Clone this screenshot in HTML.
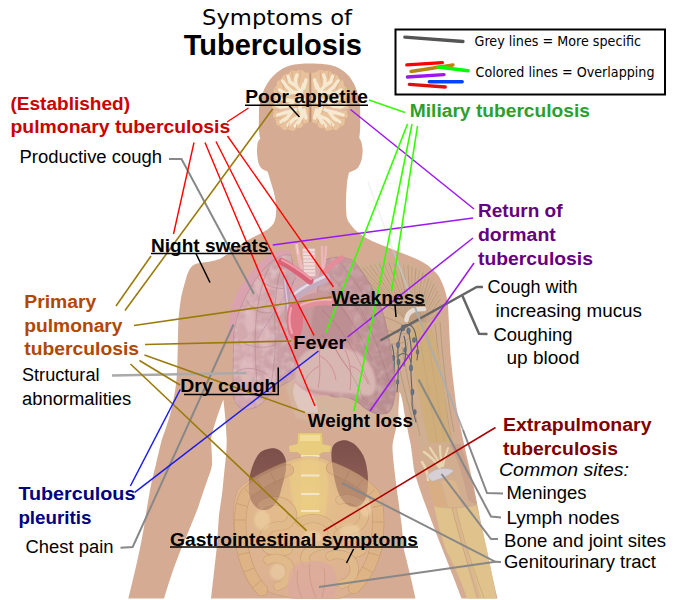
<!DOCTYPE html>
<html><head><meta charset="utf-8"><title>Symptoms of Tuberculosis</title>
<style>
html,body{margin:0;padding:0;background:#fff;}
svg{display:block}
text{font-family:"Liberation Sans",sans-serif;font-size:18px;fill:#000}
.b{font-weight:bold}
.dj{font-family:"DejaVu Sans",sans-serif}
</style></head><body>
<svg width="676" height="600" viewBox="0 0 676 600">
<rect width="676" height="600" fill="#fff"/>
<defs>
<filter id="bl1" x="-10%" y="-10%" width="120%" height="120%"><feGaussianBlur stdDeviation="1"/></filter>
<filter id="bl2" x="-10%" y="-10%" width="120%" height="120%"><feGaussianBlur stdDeviation="2"/></filter>
<filter id="bl05" x="-10%" y="-10%" width="120%" height="120%"><feGaussianBlur stdDeviation="0.5"/></filter>
</defs>
<g id="body">
<path id="sil" fill="#d5ac93" d="M311,63.5 C302,63.5 296,64 290,65.5 C285,67 281,69 277,72.5 C273,76 270,79 268,82.5 C265,87 263,91 261.5,97 C260,102 259,106 259,110 L258.8,126 C259,131 259.3,134 259.7,136.5 L260.3,139 C258.5,140 257.8,141.5 257.5,143.5 C257,147 256.8,151 257.2,155 C257.6,159 258,162.5 259.5,165.5 C260.5,167.5 262,169 264,170 L267.5,171.5 C268.5,174 269,176.5 270,179.5 C272,186 274,192 275,197.5 C276,202 276.3,206 276.2,210 C276.1,214 275.8,217 275,220 C274,223 273,224.5 271,226.5 C268.5,229 266,230.5 262.5,232.5 C259,234.5 256,236 252.5,237.5 C241,243.5 231,252 220,259 C213,261.5 205,262 197,263.5 C193.5,264.5 191,266.5 189.5,269.5 C188,272.5 187,275 186.3,277.5 L184.5,284 C183,289 181.5,295 180.7,300 C179.5,308 178.6,316 178.3,323 C178,332 177.8,341 177.7,350 C177.5,359 177.2,368 176.7,377 C176,385 175,393 173.3,400 C172,408 170,416 167.5,423 C165.5,429 163.5,435 161.7,440 C159.5,449 157.5,457 155.8,465 C153.5,474 151.5,482 150,490 C148.5,499 147,507 145.8,515 C144.8,521 144,527 143.3,531 C139,555 133,580 128.3,598.5 L164,598.5 C170,578 177,558 185,540 C189,530 194,518 198.3,507 C201,498 204,490 206.7,482 C209,475 211.5,470 212,465 C212.3,458 211.5,450 211,440 C212,432 216.5,418 223.3,399.5 C224.7,410 226,425 226.7,440 C226.5,450 226,458 225,465 C224,474 223.3,482 222.5,490 C221.5,499 220,507 219,515 C218.3,524 217.8,532 217.5,540 C215.5,560 213,580 211,598.5 L415.5,598.5 C412,582 408,566 404,550 C403,542 402.5,533 401.7,525 C400.5,517 399.3,508 398.3,500 C397,491 396,483 395,475 C394,466 393,458 392.5,450 L392.5,445 C393.5,438 396,430 397.5,420 C398,412 399,402 399.7,391 C401.5,396 402.5,401 403.3,406 C404,411 404.8,416 405.8,420 C407.5,429 409,437 410.8,445 C412,454 413,462 414,470 C418,486 424,501 430,517 C436,533 442,548 446.7,560 C452,574 457,586 461.5,598.5 L497.5,598.5 C492,575 487,551 483,533 C479,514 476,497 473,483 C469,466 465,449 461.7,433 C459,420 456.5,410 455.5,400 C453.5,385 452,370 450.5,355 C449.5,340 449,322 448,305 C447,296 445,290 443,285 C440,277 437,273 433,270 C427,264 420,260 413,257.5 C400,252 387,247 375.5,242.5 C366,238.5 358,233.5 353,227.5 C349,223 347,220 346.5,216 C346,210 345.8,204 346,199 C346.3,193 346.7,186 347.3,180 L349,172.5 L352,171.2 C355,170 357,169 358.5,167 C360,164.5 361,162 361.7,159 C362.5,155 362.7,152 362.5,149 C362.3,146 361.8,143 361,141 L359.3,138 C359.7,134 360,131 360.2,128 L360.2,110 C360,105 359.5,101 358.5,97 C357.5,92 356,88 354.3,84.5 C352,80 350,77 347,74 C343.5,70.5 340,68.5 335.5,66.5 C329,64.3 320,63.5 311,63.5 Z"/>
</g>
<g id="brain">
<path fill="#e8c29c" stroke="#d3a584" stroke-width="0.6" d="M309.6,72.7 L308.9,72.5 L308.0,72.3 L307.1,72.2 L306.2,72.2 L305.4,72.1 L304.6,71.7 L303.9,71.1 L303.2,70.5 L302.4,70.1 L301.7,69.7 L300.9,69.6 L300.0,69.5 L299.2,69.7 L298.3,69.9 L297.4,70.3 L296.6,70.7 L295.8,70.7 L294.9,70.5 L294.0,70.2 L293.2,70.1 L292.3,70.1 L291.3,70.4 L290.5,70.8 L289.9,71.4 L289.3,72.1 L288.7,72.8 L288.1,73.3 L287.2,73.5 L286.2,73.5 L285.3,73.7 L284.5,74.0 L283.8,74.4 L283.2,74.9 L282.6,75.6 L282.1,76.3 L281.8,77.1 L281.4,78.0 L280.9,78.7 L280.1,79.1 L279.3,79.4 L278.5,79.8 L277.8,80.3 L277.1,80.9 L276.7,81.8 L276.4,82.7 L276.3,83.6 L276.3,84.5 L276.2,85.3 L275.9,86.1 L275.2,86.7 L274.5,87.3 L274.0,88.0 L273.5,88.8 L273.2,89.5 L273.1,90.3 L273.1,91.2 L273.2,92.1 L273.3,93.0 L273.4,93.9 L273.2,94.7 L272.8,95.4 L272.3,96.2 L271.9,97.0 L271.7,97.8 L271.6,98.6 L271.6,99.5 L271.8,100.4 L272.2,101.2 L272.6,102.0 L272.9,102.8 L272.7,103.7 L272.3,104.5 L272.0,105.3 L271.7,106.1 L271.6,107.0 L271.6,107.8 L271.9,108.6 L272.2,109.5 L272.7,110.2 L273.1,111.0 L273.3,111.8 L273.1,112.7 L272.8,113.5 L272.5,114.4 L272.4,115.4 L272.5,116.3 L272.8,117.0 L273.3,117.8 L273.8,118.5 L274.5,119.1 L275.0,119.8 L275.3,120.6 L275.4,121.5 L275.5,122.4 L275.7,123.3 L275.9,124.1 L276.3,124.8 L276.9,125.4 L277.6,126.0 L278.5,126.4 L279.5,126.7 L280.3,126.9 L280.9,127.5 L281.4,128.3 L281.9,129.1 L282.7,129.7 L283.5,130.2 L284.3,130.4 L285.1,130.5 L285.9,130.5 L286.8,130.3 L287.7,130.1 L288.6,130.0 L289.4,130.1 L290.2,130.5 L291.1,130.9 L291.9,131.1 L292.7,131.2 L293.7,131.1 L294.6,130.8 L295.4,130.2 L296.0,129.6 L296.6,128.9 L297.3,128.4 L298.2,128.3 L299.1,128.4 L300.1,128.3 L301.0,128.1 L301.7,127.7 L302.4,127.2 L302.9,126.6 L303.4,125.9 L303.9,125.1 L304.4,124.3 L305.0,123.8 L305.8,123.4 L306.7,123.2 L307.5,122.9 L308.3,122.5 L308.9,122.1 Z"/>
<path fill="#e8c29c" stroke="#d3a584" stroke-width="0.6" d="M311.0,72.7 L311.7,72.5 L312.6,72.3 L313.5,72.2 L314.4,72.2 L315.2,72.1 L316.0,71.7 L316.7,71.1 L317.4,70.5 L318.2,70.1 L318.9,69.7 L319.7,69.6 L320.6,69.5 L321.4,69.7 L322.3,69.9 L323.2,70.3 L324.0,70.7 L324.8,70.7 L325.7,70.5 L326.6,70.2 L327.4,70.1 L328.3,70.1 L329.3,70.4 L330.1,70.8 L330.7,71.4 L331.3,72.1 L331.9,72.8 L332.5,73.3 L333.4,73.5 L334.4,73.5 L335.3,73.7 L336.1,74.0 L336.8,74.4 L337.4,74.9 L338.0,75.6 L338.5,76.3 L338.8,77.1 L339.2,78.0 L339.7,78.7 L340.5,79.1 L341.3,79.4 L342.1,79.8 L342.8,80.3 L343.5,80.9 L343.9,81.8 L344.2,82.7 L344.3,83.6 L344.3,84.5 L344.4,85.3 L344.7,86.1 L345.4,86.7 L346.1,87.3 L346.6,88.0 L347.1,88.8 L347.4,89.5 L347.5,90.3 L347.5,91.2 L347.4,92.1 L347.3,93.0 L347.2,93.9 L347.4,94.7 L347.8,95.4 L348.3,96.2 L348.7,97.0 L348.9,97.8 L349.0,98.6 L349.0,99.5 L348.8,100.4 L348.4,101.2 L348.0,102.0 L347.7,102.8 L347.9,103.7 L348.3,104.5 L348.6,105.3 L348.9,106.1 L349.0,107.0 L349.0,107.8 L348.7,108.6 L348.4,109.5 L347.9,110.2 L347.5,111.0 L347.3,111.8 L347.5,112.7 L347.8,113.5 L348.1,114.4 L348.2,115.4 L348.1,116.3 L347.8,117.0 L347.3,117.8 L346.8,118.5 L346.1,119.1 L345.6,119.8 L345.3,120.6 L345.2,121.5 L345.1,122.4 L344.9,123.3 L344.7,124.1 L344.3,124.8 L343.7,125.4 L343.0,126.0 L342.1,126.4 L341.1,126.7 L340.3,126.9 L339.7,127.5 L339.2,128.3 L338.7,129.1 L337.9,129.7 L337.1,130.2 L336.3,130.4 L335.5,130.5 L334.7,130.5 L333.8,130.3 L332.9,130.1 L332.0,130.0 L331.2,130.1 L330.4,130.5 L329.5,130.9 L328.7,131.1 L327.9,131.2 L326.9,131.1 L326.0,130.8 L325.2,130.2 L324.6,129.6 L324.0,128.9 L323.3,128.4 L322.4,128.3 L321.5,128.4 L320.5,128.3 L319.6,128.1 L318.9,127.7 L318.2,127.2 L317.7,126.6 L317.2,125.9 L316.7,125.1 L316.2,124.3 L315.6,123.8 L314.8,123.4 L313.9,123.2 L313.1,122.9 L312.3,122.5 L311.7,122.1 Z"/>
<g fill="none" stroke="#f7e9cf" stroke-linecap="round" stroke-linejoin="round"><path stroke-width="3.4" d="M304.0,84.0 L301.0,92.0 L303.5,100.0 L300.0,108.0 L302.5,116.0 L298.0,123.0 M301.0,92.0 L296.0,86.0 L295.5,79.0 L297.0,75.0 M296.0,86.0 L290.0,82.0 L288.0,76.5 M301.0,93.0 L293.0,92.0 L287.0,87.0 L282.5,81.0 M293.0,92.0 L286.0,94.0 L279.5,90.0 M302.0,100.0 L294.0,101.0 L286.0,100.0 L278.0,98.0 M294.0,101.0 L288.0,106.0 L280.0,107.0 L276.0,105.0 M300.0,108.0 L292.0,111.0 L284.0,113.0 L277.5,115.0 M292.0,111.0 L287.0,118.0 L281.0,122.0 M301.0,116.0 L294.0,119.0 L288.0,125.0 M298.0,122.0 L295.0,126.0 M304.0,110.0 L306.0,118.0 M304.0,88.0 L306.0,80.0"/><path stroke-width="3.4" d="M316.6,84.0 L319.6,92.0 L317.1,100.0 L320.6,108.0 L318.1,116.0 L322.6,123.0 M319.6,92.0 L324.6,86.0 L325.1,79.0 L323.6,75.0 M324.6,86.0 L330.6,82.0 L332.6,76.5 M319.6,93.0 L327.6,92.0 L333.6,87.0 L338.1,81.0 M327.6,92.0 L334.6,94.0 L341.1,90.0 M318.6,100.0 L326.6,101.0 L334.6,100.0 L342.6,98.0 M326.6,101.0 L332.6,106.0 L340.6,107.0 L344.6,105.0 M320.6,108.0 L328.6,111.0 L336.6,113.0 L343.1,115.0 M328.6,111.0 L333.6,118.0 L339.6,122.0 M319.6,116.0 L326.6,119.0 L332.6,125.0 M322.6,122.0 L325.6,126.0 M316.6,110.0 L314.6,118.0 M316.6,88.0 L314.6,80.0"/></g>
<g fill="none" stroke="#d9aa86" stroke-width="0.8" stroke-linecap="round" stroke-linejoin="round"><path d="M300.5,71.0 L300.0,78.0 L299.0,83.0 M292.0,71.5 L292.5,78.0 M285.0,75.0 L287.0,80.0 M279.5,80.0 L283.0,85.0 L284.0,89.0 M275.0,88.5 L280.0,93.5 M273.0,98.0 L279.0,101.5 L283.0,102.0 M273.0,109.5 L279.0,110.5 M274.5,118.5 L281.0,117.5 M279.0,126.0 L283.5,122.0 M287.5,129.8 L289.5,123.0 M296.0,129.0 L297.0,124.0 M303.5,125.0 L302.0,120.0 M291.0,96.0 L296.0,96.5 M286.0,104.0 L291.0,105.5 M306.0,95.0 L307.5,104.0 M297.0,106.0 L298.0,112.0"/><path d="M320.1,71.0 L320.6,78.0 L321.6,83.0 M328.6,71.5 L328.1,78.0 M335.6,75.0 L333.6,80.0 M341.1,80.0 L337.6,85.0 L336.6,89.0 M345.6,88.5 L340.6,93.5 M347.6,98.0 L341.6,101.5 L337.6,102.0 M347.6,109.5 L341.6,110.5 M346.1,118.5 L339.6,117.5 M341.6,126.0 L337.1,122.0 M333.1,129.8 L331.1,123.0 M324.6,129.0 L323.6,124.0 M317.1,125.0 L318.6,120.0 M329.6,96.0 L324.6,96.5 M334.6,104.0 L329.6,105.5 M314.6,95.0 L313.1,104.0 M323.6,106.0 L322.6,112.0"/></g>
<path d="M310.3,73.5 L310.3,122" stroke="#b98b72" stroke-width="1.1"/>
</g>
<g id="arm">
<!-- muscle base: deltoid, pectoral, upper arm -->
<path fill="#cfae92" d="M355,268 C362,264 370,262 378,261.500 C390,261 400,261.500 407,262.500 C416,265 424,270 430,277 C435,282 438,287 439.600,290.500 C441.500,296 442.500,303 443,310 C444,330 445,350 446.500,365 C448,385 451,410 455,430 L459,446 C450,450 432,452 421,450 C416,438 410,420 405,405 L400,392 C396,391 394,391 392,390 C390,370 386,340 380,315 C374,295 365,275 355,263 Z"/>
<g fill="none" stroke="#9a7657" stroke-width="0.5" opacity="0.75">
<path d="M358,272 Q380.6,292.3 411.7,325.5"/>
<path d="M360.5,270.0 Q381.9,291.6 412.1,325.5" opacity="0.6"/>
<path d="M363,268 Q383.2,290.5 412.6,325.0"/>
<path d="M366.5,266.5 Q385.1,290.2 413.1,325.0" opacity="0.6"/>
<path d="M370,265 Q387.0,289.5 413.5,324.5"/>
<path d="M374.5,264.2 Q389.4,289.6 413.9,324.5" opacity="0.6"/>
<path d="M379,263.5 Q391.9,289.5 414.4,324.0"/>
<path d="M384.0,263.2 Q394.6,289.9 414.8,324.0" opacity="0.6"/>
<path d="M389,263 Q397.3,290.1 415.3,323.5"/>
<path d="M394.0,263.2 Q400.1,290.8 415.8,323.5" opacity="0.6"/>
<path d="M399,263.5 Q402.8,291.2 416.2,323.0"/>
<path d="M403.5,264.2 Q405.4,292.0 416.6,323.0" opacity="0.6"/>
<path d="M408,265 Q407.9,292.7 417.1,322.5"/>
<path d="M412.0,266.5 Q410.3,293.8 417.6,322.5" opacity="0.6"/>
<path d="M416,268 Q412.7,294.8 418.0,322.0"/>
<path d="M419.5,270.2 Q414.8,296.3 418.4,322.0" opacity="0.6"/>
<path d="M423,272.5 Q416.9,298.0 418.9,322.5"/>
<path d="M426.0,275.2 Q418.9,299.7 419.3,322.5" opacity="0.6"/>
<path d="M429,278 Q420.8,301.6 419.8,323.0"/>
<path d="M431.5,281.0 Q422.5,303.4 420.2,323.0" opacity="0.6"/>
<path d="M434,284 Q424.2,305.3 420.7,323.5"/>
<path d="M436.0,287.5 Q425.7,307.3 421.1,323.5" opacity="0.6"/>
<path d="M438,291 Q427.2,309.5 421.6,324.0"/>
<path d="M439.2,295.0 Q428.3,311.6 422.1,324.0" opacity="0.6"/>
<path d="M440.5,299 Q429.5,313.9 422.5,324.5"/>
<path d="M441.2,304.0 Q430.5,316.4 422.9,324.5" opacity="0.6"/>
<path d="M442,309 Q431.4,319.2 423.4,325.0"/>
<path d="M372,300 Q395,306 412,326"/>
<path d="M375,314 Q397,320 411,330"/>
<path d="M378,328 Q399,334 410,334"/>
<path d="M381,342 Q401,348 409,338"/>
<path d="M384,356 Q403,362 408,342"/>
<path d="M387,370 Q405,376 407,346"/>
<path d="M440,322 C442,352 446,392 454,432"/>
<path d="M435,324 C438,352 443,392 451,438"/>
<path d="M396,352 C400,372 405,392 413,422"/>
<path d="M402,347 C406,372 411,395 420,436"/>
</g>
<!-- biceps yellowish -->
<path fill="#cfae7c" d="M412,328 C418,320 427,320 432,330 C438,345 442,370 445,398 C447,418 450,434 453,446 C447,450 437,450 430,448 C426,430 421,408 417,388 C413,366 409,345 412,328 Z"/>
<g fill="none" stroke="#bf9c66" stroke-width="0.5" opacity="0.7"><path d="M418,326 C422,350 428,390 438,446"/><path d="M425,324 C430,350 436,390 445,446"/></g>
<!-- tendon white near shoulder -->
<path fill="none" stroke="#e6dcd3" stroke-width="4.600" stroke-linecap="round" d="M406.500,320 C407,312 413,308.500 424,309"/>
<!-- elbow region -->
<path fill="#d2ae90" d="M419,448 C428,442 446,440 459,444 C463,458 467,472 472,490 L476,506 C466,509 448,509 435,507 C430,490 424,468 419,448 Z"/>
<path fill="#c9a08c" opacity="0.85" d="M449,444 C456,455 463,474 468,500 L477,505 C472,480 466,458 460,444 Z"/>
<g fill="none" stroke="#ead9b2" stroke-linecap="round" opacity="0.95">
<path stroke-width="2.500" d="M424,452 C430,456 436,462 440,468"/>
<path stroke-width="2.200" d="M430,448 C434,454 438,460 441,466"/>
<path stroke-width="2.200" d="M440,446 C440,452 441,460 442,466"/>
<path stroke-width="2" d="M448,448 C446,454 444,460 443,466"/>
<path stroke-width="2.500" d="M422,462 C426,468 428,474 428,480"/>
</g>
<path fill="#d6d0d6" stroke="#b3aab3" stroke-width="0.500" d="M427,476 C433,468.500 445,466 454,470.500 C449,476.500 441,478.500 432,481.500 Z"/>
<path fill="#d9ae82" d="M427,482 C432,480 437,481 440,484 C443,492 445,500 446,507 L436,507 C432,498 429,490 427,482 Z"/>
<path fill="#dbb58c" d="M441,482 C446,479 452,479 456,482 C459,490 461,499 462,507 L448,507 C446,498 444,490 441,482 Z"/>
<!-- forearm bones -->
<path fill="#dfc28c" d="M434,506.500 C446,509 464,509 476.500,505.500 C483,530 490,562 496.500,598.500 L467,598.500 C461,580 454,565 446,550 C441,536 437,520 434,506.500 Z"/>
<path fill="none" stroke="#c4a16c" stroke-width="0.800" d="M452,508 C459,535 468,565 478,598"/>
<path fill="none" stroke="#c4a16c" stroke-width="0.600" d="M456,508 C462,535 472,565 484,598"/>
<path fill="#d5ac93" opacity="0.5" d="M453,508 C458,530 466,560 476,598 L481,598 C472,565 463,535 456,508 Z"/>
<!-- lymph nodes -->
<g fill="none" stroke="#4f5c6b" stroke-width="1.1" stroke-linecap="round" opacity="0.9">
<path d="M403,326 C400,335 397,345 398,356 C399,368 398,380 397,392"/>
<path d="M408,328 C410,340 413,350 411,362 C410,375 413,390 412,405 C413,412 415,418 416,422"/>
<path d="M403,326 C408,323 413,325 415,332 C417,340 419,350 417,360"/>
<path d="M398,356 C404,351 409,354 411,362"/>
<path d="M392,345 C394,352 395,360 394,372"/>
<path d="M404,336 C407,345 406,355 404,366"/>
</g>
<g fill="#66778b" stroke="#3f4b5c" stroke-width="0.4">
<ellipse cx="403" cy="328" rx="2" ry="3"/><ellipse cx="408.500" cy="331" rx="1.800" ry="2.800"/>
<ellipse cx="398" cy="345" rx="1.600" ry="3"/><ellipse cx="414" cy="340" rx="1.600" ry="2.600"/>
<ellipse cx="398.500" cy="362" rx="1.500" ry="3"/><ellipse cx="411" cy="368" rx="1.600" ry="3.200"/>
<ellipse cx="393" cy="358" rx="1.400" ry="2.800"/><ellipse cx="412.500" cy="392" rx="1.500" ry="3"/>
<ellipse cx="397.500" cy="382" rx="1.300" ry="2.600"/><ellipse cx="415" cy="412" rx="1.300" ry="2.600"/>
<ellipse cx="417.500" cy="352" rx="1.300" ry="2.400"/><ellipse cx="405" cy="350" rx="1.300" ry="2.400"/>
</g>
</g>
<g id="chest">
<defs>
<linearGradient id="gLungL" x1="0" y1="0" x2="1" y2="0.3">
<stop offset="0" stop-color="#d6abaf"/><stop offset="0.5" stop-color="#d2a8ac"/><stop offset="1" stop-color="#c99fa3"/>
</linearGradient>
<linearGradient id="gLungR" x1="0" y1="0" x2="1" y2="0.2">
<stop offset="0" stop-color="#c79a9e"/><stop offset="0.6" stop-color="#c09396"/><stop offset="1" stop-color="#b98e8f"/>
</linearGradient>
<linearGradient id="gMus" x1="0" y1="0" x2="1" y2="1">
<stop offset="0" stop-color="#c9a582"/><stop offset="1" stop-color="#c4a07f"/>
</linearGradient>
<filter id="tex" x="0" y="0" width="100%" height="100%">
<feTurbulence type="fractalNoise" baseFrequency="0.16" numOctaves="3" seed="7" result="n"/>
<feColorMatrix in="n" type="matrix" values="0 0 0 0 0.45  0 0 0 0 0.25  0 0 0 0 0.3  0.9 0.9 0 0 -0.75" result="c"/>
<feComposite in="c" in2="SourceGraphic" operator="in"/>
</filter>
<filter id="texL" x="0" y="0" width="100%" height="100%">
<feTurbulence type="fractalNoise" baseFrequency="0.13" numOctaves="2" seed="11" result="n"/>
<feColorMatrix in="n" type="matrix" values="0 0 0 0 1  0 0 0 0 0.92  0 0 0 0 0.92  1.1 1.1 0 0 -0.95" result="c"/>
<feComposite in="c" in2="SourceGraphic" operator="in"/>
</filter>

</defs>
<!-- abdominal wall fibres below ribs -->
<path fill="#d6b5a0" opacity="0.9" filter="url(#bl1)" d="M286,388 L300,352 L335,350 L395,395 L399,418 L380,430 L330,424 L296,418 Z"/>
<!-- mediastinum base -->
<path fill="#d7a8ab" d="M290,262 C300,268 315,270 330,262 L335,300 L330,396 L296,396 L290,330 Z"/>
<!-- right lung (viewer right) -->
<path id="lungR" fill="url(#gLungR)" stroke="#a07078" stroke-width="0.5" d="M322,262 C330,256 345,255 355,262 C365,275 376,292 382,310 C388,330 393,355 395,380 C396,395 394,408 388,413 C378,416 368,412 360,404 C352,398 345,396 338,397 C330,398 322,392 318,380 L316,300 Z"/>
<!-- left lung pleura band -->
<path fill="#d9a2ae" d="M292,251 C283,248.500 275,251 266,257 C255,265 245,278 237,293 C232,304 229,316 228.500,328 C229,336 231,342 234,346 L250,300 Z"/>
<!-- left lung -->
<path id="lungL" fill="url(#gLungL)" stroke="#a87a85" stroke-width="0.5" d="M291,255 C284,254 277,257 270,263 C260,272 252,284 245,298 C238,312 234,326 233.5,340 L233,392 C233.5,401 237,407 243,409 C250,410 256,408 261,404 C266,400 270,393 276,388 C284,384 292,381 296,376 C298,366 296,352 292,340 C289,330 286,322 285,314 C286,300 292,290 295,275 Z"/>
<use href="#lungL" filter="url(#tex)" opacity="0.3"/><use href="#lungL" filter="url(#texL)" opacity="0.4"/><use href="#lungR" filter="url(#tex)" opacity="0.3"/><use href="#lungR" filter="url(#texL)" opacity="0.3"/>
<!-- lung texture light patches -->
<g fill="#e3bfc2" opacity="0.55" filter="url(#bl1)">
<ellipse cx="262" cy="285" rx="6" ry="9" transform="rotate(25 262 285)"/>
<ellipse cx="250" cy="320" rx="6" ry="12"/>
<ellipse cx="266" cy="340" rx="7" ry="12"/>
<ellipse cx="247" cy="370" rx="7" ry="14"/>
<ellipse cx="270" cy="378" rx="6" ry="9"/>
<ellipse cx="280" cy="300" rx="5" ry="12"/>
</g>
<g fill="none" stroke="#9d6f7b" stroke-width="0.6" opacity="0.6">
<path d="M270,265 C262,280 258,300 256,320 C254,345 256,370 258,400"/>
<path d="M283,262 C276,282 274,305 275,330 C276,350 274,370 270,390"/>
<path d="M246,300 C252,310 262,315 272,312"/>
<path d="M238,340 C248,346 260,350 275,345"/>
<path d="M236,372 C246,366 258,368 268,375"/>
<path d="M258,278 C266,286 276,290 288,288"/>
</g>
<path d="M258,338 C268,322 282,300 296,278" fill="none" stroke="#9a6ad0" stroke-width="0.7" stroke-dasharray="2 1" opacity="0.6"/>
<!-- heart body -->
<path fill="#c9999c" d="M298,300 C308,292 325,290 338,296 C348,303 354,320 355,340 C355,360 352,378 344,390 C332,398 315,396 305,388 C296,378 292,360 292,340 C292,322 293,308 298,300 Z"/>
<path fill="#b98a8e" opacity="0.7" filter="url(#bl1)" d="M318,298 C330,296 346,304 352,322 L353,345 C340,338 325,338 312,342 C310,325 312,310 318,298 Z"/>
<path fill="#d8b6b2" filter="url(#bl1)" d="M295,381 C294,368 298,357 307,351 C318,346 345,346 358,353 C368,359 375,370 376,384 C376,390 374,394 370,396 C358,395 345,393 330,392 C318,391 303,389 295,381 Z"/>
<g fill="none" stroke="#c9676f" stroke-width="0.6" opacity="0.8">
<path d="M320,348 C318,358 322,370 318,388"/><path d="M345,350 C350,360 352,372 350,390"/><path d="M350,366 C358,368 364,374 368,384"/><path d="M320,356 C328,360 334,368 336,380"/><path d="M319,366 C312,370 306,376 304,384"/>
<path d="M335,346 C338,356 344,364 350,370"/>
</g>
<!-- diaphragm whitish -->
<path fill="#e2cbc4" opacity="0.85" filter="url(#bl05)" d="M295,383 C300,388 306,392 312,394 C316,400 318,407 318,413 L300,412 C296,404 293,396 293,390 Z"/>
<!-- trachea -->
<path fill="#f0dad8" stroke="#dcb3b3" stroke-width="0.5" d="M302.500,248.500 L315,248.500 L315.500,276 L304,277 Z"/>
<g stroke="#d9aeb0" stroke-width="0.8"><path d="M303,252 H315 M303,255.500 H315 M303,259 H315 M303.200,262.500 H315.200 M303.500,266 H315.300 M303.700,269.500 H315.400 M304,273 H315.500"/></g>
<!-- neck vessels -->
<g fill="none" stroke-linecap="butt">
<path d="M296.500,244 C297.500,252 299,260 302,269" stroke="#edb6ba" stroke-width="3.600"/>
<path d="M296.500,244 L298,254" stroke="#f6d6d8" stroke-width="1.200"/>
<path d="M322,246 L322.500,271" stroke="#edb6ba" stroke-width="2.400"/>
<path d="M326,246 C326,254 325,262 323,271" stroke="#edb6ba" stroke-width="2.400"/>
<path d="M341.500,258 C335,262 329,267 323.500,273" stroke="#e58c9a" stroke-width="5" stroke-linecap="round"/>
<!-- SVC & pulmonary -->
<path d="M285,275 C286,288 288,305 290,324" stroke="#bf9db4" stroke-width="5.500"/>
<path d="M284.500,276 C285.500,288 287.500,303 289,318" stroke="#dcc7d6" stroke-width="1.500"/>
<path d="M294,296 C303,289 314,283 326,278" stroke="#c3acc0" stroke-width="9" stroke-linecap="round"/>
<path d="M294,294 C303,287 314,281 325,276.500" stroke="#e6d9e3" stroke-width="2.500" stroke-linecap="round"/>
<!-- aorta arch / subclavian -->
<path d="M281.500,261.500 C290,266 300,273 310,281" stroke="#da6378" stroke-width="7" stroke-linecap="round"/>
<path d="M282,260 C291,264.500 301,271 311,279" stroke="#ee9ca8" stroke-width="2.200" stroke-linecap="round"/>
<path d="M296,309 C305,303.500 318,300.500 333,302" stroke="#e2909c" stroke-width="7.500" stroke-linecap="round" fill="none"/>
<path d="M297,307 C306,302 318,299 331,300" stroke="#efb2ba" stroke-width="2" stroke-linecap="round" fill="none"/>
<!-- left atrial appendage / red heart part -->
<path d="M290,304 C295,301 300,304 302,311 C304,320 303,331 299,338 C295,342 290,339 288,332 C286,323 286,311 290,304 Z" fill="#df7585" stroke="none"/>
<path d="M291,308 C289,316 289,326 292,333" stroke="#f0a6b0" stroke-width="2.200" stroke-linecap="round"/>
</g>
<!-- right-lung striations -->
<g fill="none" stroke="#8e636b" stroke-width="0.5" opacity="0.55">
<path d="M330,275 C345,290 360,310 375,340"/>
<path d="M326,290 C342,305 358,330 372,360"/>
<path d="M322,310 C340,325 355,350 370,385"/>
<path d="M322,335 C338,350 352,372 364,400"/>
<path d="M340,262 C355,280 368,300 380,325"/>
<path d="M355,300 C368,320 380,350 390,385"/>
</g>
</g>
<g id="abdomen">
<defs>
<radialGradient id="gInt" cx="0.5" cy="0.3" r="0.65">
<stop offset="0" stop-color="#ecc88a"/><stop offset="0.45" stop-color="#e6bd8a"/><stop offset="1" stop-color="#deb392"/>
</radialGradient>
<linearGradient id="gKid" x1="0" y1="0" x2="0" y2="1">
<stop offset="0" stop-color="#7c4f4a"/><stop offset="1" stop-color="#94635a"/>
</linearGradient>
</defs>
<!-- kidneys -->
<path id="kidL" fill="url(#gKid)" d="M268,449 C277,446 285,452 286,462 C287,472 283,482 281,490 C279,500 274,508 266,510 C257,511 250,503 249,492 C248,478 252,464 258,455 C261,451 264,450 268,449 Z"/>
<path id="kidR" fill="url(#gKid)" d="M340,441 C349,438 360,446 365,460 C369,474 369,490 365,500 C361,508 352,509 345,503 C338,496 336,486 334,476 C332,464 330,452 333,446 C335,443 337,442 340,441 Z"/>
<!-- spine -->
<path fill="#e9cd7e" stroke="#d1b366" stroke-width="0.5" d="M298,433 L322,433 L323,452 L319,455 L320,520 L300,520 L301,455 L297,452 Z"/>
<path fill="#e9cd7e" d="M289,446 L298,444 L298,452 L290,452 Z M322,444 L331,446 L330,452 L322,452 Z"/>
<path fill="#f1dc9a" d="M300,435 H320 V441 H300 Z"/>
<g stroke="#f6f0e2" stroke-width="2.500"><path d="M301,456.500 H319.500 M301,475.500 H319.500 M301,494 H319.500 M301,511 H319.500"/></g>
<!-- intestines -->
<path fill="url(#gInt)" opacity="0.78" stroke="#c4996a" stroke-width="0.6" d="M286,462 C295,456 315,455 326,459 C340,468 360,480 376,489 C382,500 384,510 383.500,519 C384,530 383,540 382,549 C378,562 372,574 364,582 C356,590 348,596 340,598.500 L295,598.500 C280,596 268,592 259,588 C250,578 243,566 238,552 C234,538 233,524 233.500,510 C234,500 236,494 238,489 C250,478 270,468 286,462 Z"/>
<!-- yellow mesentery centre -->
<path fill="#ecd083" opacity="0.6" filter="url(#bl1)" d="M290,464 C300,458 318,458 326,464 C330,480 328,500 324,518 L298,518 C292,500 288,480 290,464 Z"/>
<g stroke="#f6f0e2" stroke-width="2" opacity="0.7"><path d="M301,475.500 H319.500 M301,494 H319.500 M301,511 H319.500"/></g>
<!-- texture on intestines -->
<path d="M262,590 C250,578 244,560 241,540 C239,520 240,505 246,494 C256,484 272,476 288,470 M332,468 C348,474 364,484 374,494 C379,505 379,522 377,542 C374,560 366,576 354,588" fill="none" stroke="#c39668" stroke-width="12.2" stroke-linecap="round" stroke-linejoin="round" opacity="0.85"/><path d="M262,590 C250,578 244,560 241,540 C239,520 240,505 246,494 C256,484 272,476 288,470 M332,468 C348,474 364,484 374,494 C379,505 379,522 377,542 C374,560 366,576 354,588" fill="none" stroke="#e2b98c" stroke-width="11" stroke-linecap="round" stroke-linejoin="round" opacity="0.85"/>
<path d="M252.8,587.5 L261.2,580.5 M243.9,571.9 L254.1,568.1 M238.6,554.8 L249.4,552.2 M235.5,537.1 L246.5,535.9 M234.5,520.0 L245.5,520.0 M236.7,503.5 L247.3,506.5 M245.1,489.1 L252.9,496.9 M257.2,479.7 L262.8,489.3 M270.5,472.6 L275.5,482.4 M349.5,470.6 L344.5,480.4 M363.3,479.1 L356.7,487.9 M374.8,490.0 L366.2,497.0 M381.9,505.4 L371.1,507.6 M383.5,522.0 L372.5,522.0 M382.5,538.7 L371.5,537.3 M378.7,555.6 L368.3,552.4 M371.9,572.1 L362.1,566.9" stroke="#bf9163" stroke-width="0.7" fill="none" opacity="0.8"/>
<path d="M262,505 C272,498 284,500 290,508 C296,516 290,526 280,526 C270,526 262,532 264,542 C266,552 278,554 288,550" fill="none" stroke="#c79a6b" stroke-width="9.2" stroke-linecap="round" stroke-linejoin="round" opacity="0.8"/><path d="M262,505 C272,498 284,500 290,508 C296,516 290,526 280,526 C270,526 262,532 264,542 C266,552 278,554 288,550" fill="none" stroke="#e6c092" stroke-width="8" stroke-linecap="round" stroke-linejoin="round" opacity="0.8"/>
<path d="M300,522 C310,516 324,518 330,526 C336,534 330,544 320,546 C310,548 302,554 306,562" fill="none" stroke="#c79a6b" stroke-width="9.2" stroke-linecap="round" stroke-linejoin="round" opacity="0.8"/><path d="M300,522 C310,516 324,518 330,526 C336,534 330,544 320,546 C310,548 302,554 306,562" fill="none" stroke="#e6c092" stroke-width="8" stroke-linecap="round" stroke-linejoin="round" opacity="0.8"/>
<path d="M340,500 C350,496 362,502 364,512 C366,522 358,530 348,530 C340,530 334,536 338,546 C342,554 354,556 362,550" fill="none" stroke="#c79a6b" stroke-width="9.2" stroke-linecap="round" stroke-linejoin="round" opacity="0.8"/><path d="M340,500 C350,496 362,502 364,512 C366,522 358,530 348,530 C340,530 334,536 338,546 C342,554 354,556 362,550" fill="none" stroke="#e6c092" stroke-width="8" stroke-linecap="round" stroke-linejoin="round" opacity="0.8"/>
<path d="M268,560 C278,556 288,560 290,568 C292,576 286,584 278,586" fill="none" stroke="#c79a6b" stroke-width="9.2" stroke-linecap="round" stroke-linejoin="round" opacity="0.8"/><path d="M268,560 C278,556 288,560 290,568 C292,576 286,584 278,586" fill="none" stroke="#e6c092" stroke-width="8" stroke-linecap="round" stroke-linejoin="round" opacity="0.8"/>
<path d="M330,556 C340,552 352,556 354,566 C356,574 350,582 342,584" fill="none" stroke="#c79a6b" stroke-width="9.2" stroke-linecap="round" stroke-linejoin="round" opacity="0.8"/><path d="M330,556 C340,552 352,556 354,566 C356,574 350,582 342,584" fill="none" stroke="#e6c092" stroke-width="8" stroke-linecap="round" stroke-linejoin="round" opacity="0.8"/>

<g fill="#f3dcae" opacity="0.45" filter="url(#bl1)">
<ellipse cx="262" cy="520" rx="8" ry="10"/><ellipse cx="350" cy="532" rx="10" ry="8"/><ellipse cx="278" cy="572" rx="8" ry="8"/><ellipse cx="366" cy="508" rx="6" ry="9"/><ellipse cx="312" cy="538" rx="10" ry="7"/>
</g>
<use href="#kidL" opacity="0.4"/><use href="#kidR" opacity="0.4"/>
<!-- sigmoid/rectum pinkish -->
<path fill="#dcaa9e" opacity="0.75" d="M292,568 C300,560 320,558 332,566 C338,575 338,590 334,598.500 L290,598.500 C287,588 287,576 292,568 Z"/>
<g fill="none" stroke="#c58a7e" stroke-width="0.6" opacity="0.8"><path d="M298,570 C296,580 298,590 302,598 M310,564 C308,576 312,588 316,598 M324,568 C326,578 324,590 322,598"/></g>
</g>
<g id="lines" fill="none" stroke-linecap="butt">
<g stroke="#888" stroke-width="2">
<path d="M169,159 L181.5,159 L254,294"/>
<path d="M120.5,547.7 L132.7,547 L233.5,324.5"/>
<path d="M380.5,340.5 L476.75,287 L483,287" stroke="#666" stroke-width="2.5"/>
<path d="M462.5,296 L479,333.75 L487.5,334" stroke="#666" stroke-width="2.5"/>
<path d="M368,182 L393,250" stroke="#ece8e4" stroke-width="1.500" opacity="0.6"/><path d="M393,250 L412,300" stroke="#c4c2c0" stroke-width="1.800"/><path d="M412,300 L463,430" stroke="#adadad"/><path d="M463,430 L487,493 L503,493.5"/>
<path d="M418.5,379.5 L491,516.5 L501,517.5"/>
<path d="M441.5,474 L491,539 L498,539"/>
<path d="M342,483 L495.4,561.8 L501,562"/>
<path d="M319,587 L495.4,561.8"/>
</g>
<path d="M112,375.5 L246.5,373" stroke="#aaa" stroke-width="2.6"/>
<g stroke="#ff0000" stroke-width="1.4">
<path d="M227,122 L248.5,108"/>
<path d="M194,142.5 L173.5,234"/>
<path d="M205,142.5 L315,406"/>
<path d="M216,141.5 L314,335.5"/>
<path d="M227.5,136 L333.5,287"/>
</g>
<g stroke="#9a7b0a" stroke-width="1.6">
<path d="M272.75,108.75 L125,310.5"/>
<path d="M151,256 L116,306"/>
<path d="M134,325.5 L331.5,297"/>
<path d="M145,344.5 L291.5,341"/>
<path d="M144.5,355 L305,412.5"/>
<path d="M139.5,360.5 L180,385"/>
<path d="M130.5,364 L306.5,530.6"/>
</g>
<g stroke="#9b18f2" stroke-width="1.5">
<path d="M350.5,109.5 L474,209"/>
<path d="M272.75,245 L473,218"/>
<path d="M473,238 L347.5,337"/>
<path d="M474,263 L370,411"/>
</g>
<g stroke="#33ff00" stroke-width="1.6">
<path d="M369,100 L405,112.5"/>
<path d="M407.5,124 L326,332.5"/>
<path d="M412,124 L354,411"/>
<path d="M417.5,126 L391.75,291"/>
</g>
<g stroke="#1a1aee" stroke-width="1.5">
<path d="M130.4,486 L180.25,389.5"/>
<path d="M134.7,492.4 L318.5,351"/>
</g>
<path d="M495.5,427.5 L323.5,531" stroke="#aa0000" stroke-width="1.5"/>
<g stroke="#000" stroke-width="1.5">
<path d="M288.5,105 L299.5,117"/>
<path d="M196,253.75 L210,282.5"/>
<path d="M395,305 L396,317"/>
<path d="M184,394.5 L278.25,394.5 L278.25,367.5"/>
<path d="M353.6,549 L346.5,563"/>
<path d="M245,105.3 H368"/>
<path d="M151,253.5 H271.5"/>
<path d="M332,305 H425"/>
<path d="M170,547 H418"/>
</g>
</g>
<g id="legend">
<rect x="395.5" y="29.5" width="269.5" height="65" fill="#fff" stroke="#000" stroke-width="2"/>
<g stroke-linecap="round" stroke-width="3.3" fill="none">
<path d="M404.800,37.200 L463,41.500" stroke="#555"/>
<path d="M406.800,64.900 L442.400,62.600" stroke="#ff0000"/>
<path d="M411,71.5 L453,65" stroke="#b8860b"/>
<path d="M438,67 L468,70.75" stroke="#00ff00"/>
<path d="M407.400,77 L444,74.600" stroke="#9b18f2"/>
<path d="M429.25,81.75 L462.25,81.75" stroke="#0044ff"/>
<path d="M409.300,84.300 L445.300,87" stroke="#dd1111"/>
</g>
<text class="dj" x="474.5" y="45.9" style="font-size:13.7px" textLength="166.5" lengthAdjust="spacingAndGlyphs">Grey lines = More specific</text>
<text class="dj" x="475.5" y="76.9" style="font-size:13.7px" textLength="179" lengthAdjust="spacingAndGlyphs">Colored lines = Overlapping</text>
</g>
<g id="labels">
<text class="dj" x="202" y="24.5" style="font-size:22px" textLength="150" lengthAdjust="spacingAndGlyphs">Symptoms of</text>
<text class="b" x="183.7" y="54.7" style="font-size:29px" textLength="178.3" lengthAdjust="spacingAndGlyphs">Tuberculosis</text>
<text class="b" x="10.5" y="110" style="fill:#cc0000;" textLength="119.5" lengthAdjust="spacingAndGlyphs">(Established)</text>
<text class="b" x="10.5" y="133.3" style="fill:#cc0000;" textLength="219.75" lengthAdjust="spacingAndGlyphs">pulmonary tuberculosis</text>
<text x="19.5" y="163" textLength="142.5" lengthAdjust="spacingAndGlyphs">Productive cough</text>
<text class="b" x="245.25" y="103" textLength="122.75" lengthAdjust="spacingAndGlyphs">Poor appetite</text>
<text class="b" x="409.75" y="116.5" style="fill:#2ca02c;" textLength="180.25" lengthAdjust="spacingAndGlyphs">Miliary tuberculosis</text>
<text class="b" x="478" y="217" style="fill:#660080;" textLength="84.5" lengthAdjust="spacingAndGlyphs">Return of</text>
<text class="b" x="478" y="241" style="fill:#660080;" textLength="77.75" lengthAdjust="spacingAndGlyphs">dormant</text>
<text class="b" x="478" y="265" style="fill:#660080;" textLength="115" lengthAdjust="spacingAndGlyphs">tuberculosis</text>
<text class="b" x="151" y="252" textLength="117.5" lengthAdjust="spacingAndGlyphs">Night sweats</text>
<text class="b" x="331.5" y="304" textLength="93.5" lengthAdjust="spacingAndGlyphs">Weakness</text>
<text class="b" x="293.25" y="349" textLength="53" lengthAdjust="spacingAndGlyphs">Fever</text>
<text class="b" x="180.25" y="392" textLength="96.25" lengthAdjust="spacingAndGlyphs">Dry cough</text>
<text class="b" x="307.75" y="427" textLength="105.25" lengthAdjust="spacingAndGlyphs">Weight loss</text>
<text class="b" x="170" y="545.6" textLength="248" lengthAdjust="spacingAndGlyphs">Gastrointestinal symptoms</text>
<text class="b" x="24.25" y="308" style="fill:#b34700;" textLength="72" lengthAdjust="spacingAndGlyphs">Primary</text>
<text class="b" x="24.25" y="331.5" style="fill:#b34700;" textLength="98.25" lengthAdjust="spacingAndGlyphs">pulmonary</text>
<text class="b" x="24.25" y="355" style="fill:#b34700;" textLength="114.75" lengthAdjust="spacingAndGlyphs">tuberculosis</text>
<text x="22" y="381" textLength="77.5" lengthAdjust="spacingAndGlyphs">Structural</text>
<text x="22" y="405" textLength="109.25" lengthAdjust="spacingAndGlyphs">abnormalities</text>
<text class="b" x="18.4" y="500" style="fill:#000080;" textLength="117" lengthAdjust="spacingAndGlyphs">Tuberculous</text>
<text class="b" x="18.4" y="524" style="fill:#000080;" textLength="73" lengthAdjust="spacingAndGlyphs">pleuritis</text>
<text x="25.5" y="553" textLength="88" lengthAdjust="spacingAndGlyphs">Chest pain</text>
<text x="487.5" y="293" textLength="90" lengthAdjust="spacingAndGlyphs">Cough with</text>
<text x="495.5" y="317" textLength="146.5" lengthAdjust="spacingAndGlyphs">increasing mucus</text>
<text x="493.5" y="341" textLength="79" lengthAdjust="spacingAndGlyphs">Coughing</text>
<text x="506.5" y="364" textLength="73" lengthAdjust="spacingAndGlyphs">up blood</text>
<text class="b" x="503" y="431" style="fill:#800000;" textLength="148.5" lengthAdjust="spacingAndGlyphs">Extrapulmonary</text>
<text class="b" x="503" y="455" style="fill:#800000;" textLength="115" lengthAdjust="spacingAndGlyphs">tuberculosis</text>
<text x="499" y="476" style="font-style:italic" textLength="130" lengthAdjust="spacingAndGlyphs">Common sites:</text>
<text x="506.5" y="499" textLength="80" lengthAdjust="spacingAndGlyphs">Meninges</text>
<text x="506.5" y="524" textLength="113" lengthAdjust="spacingAndGlyphs">Lymph nodes</text>
<text x="504" y="547" textLength="162" lengthAdjust="spacingAndGlyphs">Bone and joint sites</text>
<text x="504" y="568" textLength="152" lengthAdjust="spacingAndGlyphs">Genitourinary tract</text>
</g>
</svg>
</body></html>
